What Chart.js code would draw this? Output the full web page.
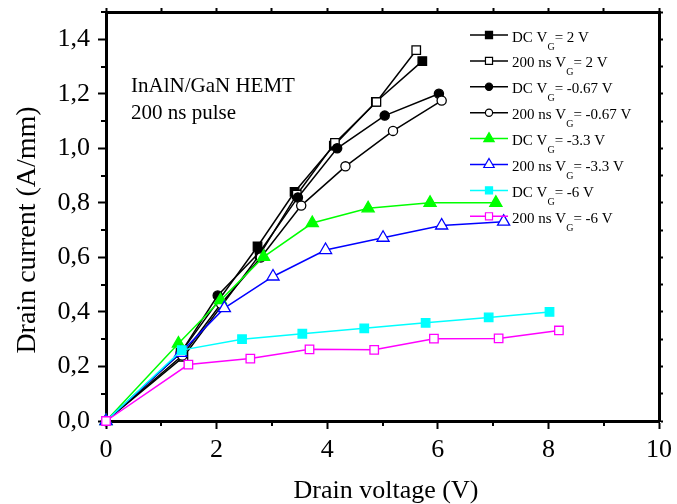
<!DOCTYPE html>
<html>
<head>
<meta charset="utf-8">
<title>InAlN/GaN HEMT pulsed I-V</title>
<script src="https://cdn.jsdelivr.net/npm/chart.js@4.4.1/dist/chart.umd.min.js"></script>
<style>
body { margin: 0; background: #fff; }
canvas { display: block; }
</style>
</head>
<body>
<canvas id="chart" width="677" height="504"></canvas>
<script>
// series labels (VG is drawn with a subscript G by the legend plugin)
var labels = ['DC VG= 2 V', '200 ns VG= 2 V', 'DC VG= -0.67 V', '200 ns VG= -0.67 V',
              'DC VG= -3.3 V', '200 ns VG= -3.3 V', 'DC VG= -6 V', '200 ns VG= -6 V'];

// drain voltage (V) / drain current (A/mm)
var vDc2 = [0, 1.35, 2.74, 3.41, 4.12, 4.88, 5.72];
var iDc2 = [0, 0.25, 0.64, 0.84, 1.01, 1.17, 1.32];
var vP2 = [0, 1.40, 2.78, 3.45, 4.14, 4.89, 5.61];
var iP2 = [0, 0.235, 0.61, 0.83, 1.02, 1.17, 1.36];
var vDcM067 = [0, 1.35, 2.02, 2.78, 3.47, 4.18, 5.04, 6.02];
var iDcM067 = [0, 0.25, 0.46, 0.62, 0.82, 1.00, 1.12, 1.20];
var vPM067 = [0, 1.38, 2.08, 2.80, 3.53, 4.33, 5.19, 6.07];
var iPM067 = [0, 0.24, 0.43, 0.60, 0.79, 0.934, 1.064, 1.175];
var vDcM33 = [0, 1.31, 2.07, 2.85, 3.73, 4.74, 5.86, 7.05];
var iDcM33 = [0, 0.284, 0.443, 0.602, 0.726, 0.78, 0.80, 0.80];
var vPM33 = [0, 1.35, 2.14, 3.02, 3.97, 5.01, 6.07, 7.19];
var iPM33 = [0, 0.25, 0.414, 0.53, 0.627, 0.672, 0.717, 0.731];
var vDcM6 = [0, 1.37, 2.46, 3.55, 4.67, 5.78, 6.92, 8.02];
var iDcM6 = [0, 0.26, 0.30, 0.32, 0.34, 0.36, 0.38, 0.40];
var vPM6 = [0, 1.49, 2.61, 3.68, 4.85, 5.93, 7.10, 8.19];
var iPM6 = [0, 0.207, 0.229, 0.263, 0.261, 0.302, 0.303, 0.332];

var SERIF = "'Liberation Serif', 'Times New Roman', serif";

function toPoints(xs, ys) {
    var pts = [];
    for (var i = 0; i < xs.length; ++i) {
        pts.push({x: xs[i], y: ys[i]});
    }
    return pts;
}

function makeSeries(idx, xs, ys, color, style, filled) {
    var r = style === 'rect' ? 6 : (style === 'triangle' ? 7 : 4.6);
    return {
        label: labels[idx],
        data: toPoints(xs, ys),
        borderColor: color,
        borderWidth: 1.5,
        pointStyle: style,
        pointRadius: r,
        pointBorderWidth: 1.3,
        pointBorderColor: color,
        pointBackgroundColor: filled ? color : '#fff',
        tension: 0,
        fill: false,
        clip: false,
        order: 8 - idx,
        isFilled: filled
    };
}

function drawMarker(ctx, style, x, y, r, fill, stroke) {
    ctx.beginPath();
    if (style === 'rect') {
        var s = r * Math.SQRT1_2;
        ctx.rect(x - s, y - s, 2 * s, 2 * s);
    } else if (style === 'circle') {
        ctx.arc(x, y, r, 0, Math.PI * 2);
    } else {
        ctx.moveTo(x, y - r);
        ctx.lineTo(x + r * 0.866, y + r * 0.5);
        ctx.lineTo(x - r * 0.866, y + r * 0.5);
        ctx.closePath();
    }
    ctx.fillStyle = fill;
    ctx.fill();
    ctx.lineWidth = 1.2;
    ctx.strokeStyle = stroke;
    ctx.stroke();
}

var isMajorX = function(v) { return Math.round(v) % 2 === 0; };
var isMajorY = function(v) { return Math.round(v * 10) % 2 === 0; };

// fixed box sizes so the plot frame lands where it is in the picture
function fixBox(w, h) {
    return function(s) {
        if (w !== null) s.width = w;
        if (h !== null) s.height = h;
        s.paddingTop = 0;
        s.paddingBottom = 0;
        s.paddingLeft = 0;
        s.paddingRight = 0;
    };
}

var extras = {
    id: 'extras',
    afterDraw: function(chart) {
        var ctx = chart.ctx;
        var area = chart.chartArea;
        var sx = chart.scales.x, sy = chart.scales.y;
        var v;
        ctx.save();

        // minor ticks on bottom and left axes
        ctx.strokeStyle = '#000';
        ctx.lineWidth = 2;
        ctx.beginPath();
        for (v = 1; v < 10; v += 2) {
            var px = Math.round(sx.getPixelForValue(v));
            ctx.moveTo(px, area.bottom);
            ctx.lineTo(px, area.bottom + 5);
        }
        for (v = 1; v <= 15; v += 2) {
            var py = Math.round(sy.getPixelForValue(v / 10));
            ctx.moveTo(area.left, py);
            ctx.lineTo(area.left - 5, py);
        }
        ctx.stroke();

        // axis titles
        ctx.fillStyle = '#000';
        ctx.textBaseline = 'alphabetic';
        ctx.textAlign = 'center';
        ctx.font = '26px ' + SERIF;
        ctx.fillText('Drain voltage (V)', 386, 498);
        ctx.save();
        ctx.translate(35, 230);
        ctx.rotate(-Math.PI / 2);
        ctx.font = '28px ' + SERIF;
        ctx.fillText('Drain current (A/mm)', 0, 0);
        ctx.restore();

        // annotation
        ctx.textAlign = 'left';
        ctx.font = '21px ' + SERIF;
        ctx.fillText('InAlN/GaN HEMT', 131, 92);
        ctx.fillText('200 ns pulse', 131, 119);

        // legend with subscript G
        var rowY = 35, rowH = 25.9;
        chart.data.datasets.forEach(function(ds, i) {
            var y = rowY + i * rowH;
            ctx.strokeStyle = ds.borderColor;
            ctx.lineWidth = 1.5;
            ctx.beginPath();
            ctx.moveTo(470, y);
            ctx.lineTo(508, y);
            ctx.stroke();
            var mr = ds.pointStyle === 'rect' ? 5 : (ds.pointStyle === 'triangle' ? 6 : 3.6);
            drawMarker(ctx, ds.pointStyle, 489, y, mr, ds.isFilled ? ds.borderColor : '#fff', ds.borderColor);

            var parts = ds.label.split('VG');
            var tx = 512, base = y + 6.5;
            ctx.fillStyle = '#000';
            ctx.font = '15px ' + SERIF;
            ctx.fillText(parts[0] + 'V', tx, base);
            tx += ctx.measureText(parts[0] + 'V').width;
            ctx.font = '10px ' + SERIF;
            ctx.fillText('G', tx, base + 8);
            tx += ctx.measureText('G').width;
            ctx.font = '15px ' + SERIF;
            ctx.fillText(parts[1], tx, base);
        });
        ctx.restore();
    }
};

var tickFont = {family: SERIF, size: 26};
var border = {display: true, color: '#000', width: 3};

new Chart(document.getElementById('chart'), {
    type: 'line',
    data: {
        datasets: [
            makeSeries(0, vDc2, iDc2, '#000', 'rect', true),
            makeSeries(1, vP2, iP2, '#000', 'rect', false),
            makeSeries(2, vDcM067, iDcM067, '#000', 'circle', true),
            makeSeries(3, vPM067, iPM067, '#000', 'circle', false),
            makeSeries(4, vDcM33, iDcM33, '#00ff00', 'triangle', true),
            makeSeries(5, vPM33, iPM33, '#0000ff', 'triangle', false),
            makeSeries(6, vDcM6, iDcM6, '#00ffff', 'rect', true),
            makeSeries(7, vPM6, iPM6, '#ff00ff', 'rect', false)
        ]
    },
    options: {
        responsive: false,
        animation: false,
        devicePixelRatio: 1,
        layout: {padding: 0},
        plugins: {
            legend: {display: false},
            tooltip: {enabled: false}
        },
        scales: {
            x: {
                type: 'linear',
                position: 'bottom',
                min: 0,
                max: 10,
                border: border,
                grid: {
                    drawOnChartArea: false,
                    tickLength: 8,
                    tickWidth: 2,
                    tickColor: function(c) { return isMajorX(c.tick.value) ? '#000' : 'rgba(0,0,0,0)'; }
                },
                ticks: {
                    stepSize: 1,
                    maxTicksLimit: 40,
                    autoSkip: false,
                    maxRotation: 0,
                    padding: 6,
                    color: '#000',
                    font: tickFont,
                    callback: function(v) { return isMajorX(v) ? String(v) : ''; }
                },
                afterFit: fixBox(null, 83)
            },
            xTop: {
                type: 'linear',
                position: 'top',
                min: 0,
                max: 10,
                border: border,
                grid: {drawOnChartArea: false, tickLength: 4, tickWidth: 2, tickColor: '#000'},
                ticks: {display: false, stepSize: 1, maxTicksLimit: 40},
                afterFit: fixBox(null, 12)
            },
            y: {
                type: 'linear',
                position: 'left',
                min: 0,
                max: 1.5,
                border: border,
                grid: {
                    drawOnChartArea: false,
                    tickLength: 8,
                    tickWidth: 2,
                    tickColor: function(c) { return isMajorY(c.tick.value) ? '#000' : 'rgba(0,0,0,0)'; }
                },
                ticks: {
                    stepSize: 0.1,
                    maxTicksLimit: 40,
                    autoSkip: false,
                    padding: 8,
                    color: '#000',
                    font: tickFont,
                    callback: function(v) {
                        return isMajorY(v) ? v.toFixed(1).replace('.', ',') : '';
                    }
                },
                afterFit: fixBox(106, null)
            },
            yRight: {
                type: 'linear',
                position: 'right',
                min: 0,
                max: 1.5,
                border: border,
                grid: {drawOnChartArea: false, tickLength: 4, tickWidth: 2, tickColor: '#000'},
                ticks: {display: false, stepSize: 0.1, maxTicksLimit: 40},
                afterFit: fixBox(18, null)
            }
        }
    },
    plugins: [extras]
});
</script>
</body>
</html>
